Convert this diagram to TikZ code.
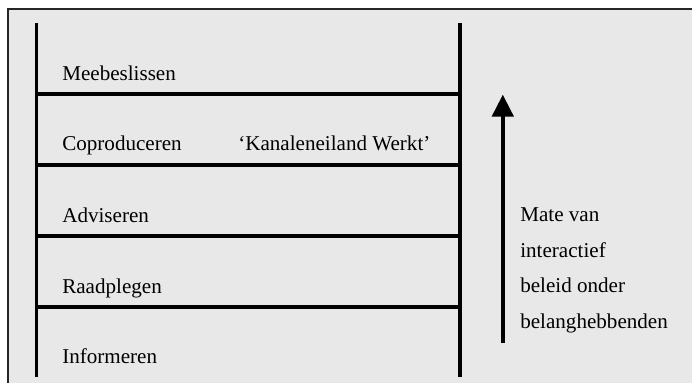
\documentclass[tikz,border=0pt]{standalone}
\usepackage{fontspec}
\setmainfont{Liberation Serif}
\usetikzlibrary{arrows.meta}

\tikzset{
    rail/.style={line width=2.8pt},
    trede/.style={anchor=base west, inner sep=0pt, font=\fontsize{15}{25.25}\selectfont}
}

\begin{document}
\begin{tikzpicture}
    \useasboundingbox (0,0) rectangle (17.3,9.575);
    % grey panel, only its left and top edges are in view
    \fill[black!9] (0.19,0) rectangle (17.3,9.34);
    \draw[line width=1.3pt, black!85] (0.19,0) -- (0.19,9.34) -- (17.3,9.34);
    % the ladder
    \draw[rail] (0.9125,0.15) -- (0.9125,9.0);
    \draw[rail] (11.49,0.15) -- (11.49,9.0);
    \foreach \y in {1.9,3.675,5.45,7.225}
        \draw[rail] (0.9125,\y) -- (11.49,\y);
    \node[trede] (meebeslissen) at (1.55,7.575) {Meebeslissen};
    \node[trede] (coproduceren) at (1.55,5.825) {Coproduceren};
    \node[trede] (werkt) at (5.95,5.825) {‘Kanaleneiland Werkt’};
    \node[trede] (adviseren) at (1.55,4.025) {Adviseren};
    \node[trede] (raadplegen) at (1.55,2.25) {Raadplegen};
    \node[trede] (informeren) at (1.55,0.5) {Informeren};
    % the arrow
    \coordinate (laag) at (12.57,1.0);
    \coordinate (hoog) at (12.57,7.21);
    \draw[rail, -{Triangle[length=0.55cm, width=0.53cm]}] (laag) -- (hoog);
    \node[trede, align=left] (mate) at (13.0,1.375)
        {Mate van\\interactief\\beleid onder\\belanghebbenden};
\end{tikzpicture}
\end{document}
